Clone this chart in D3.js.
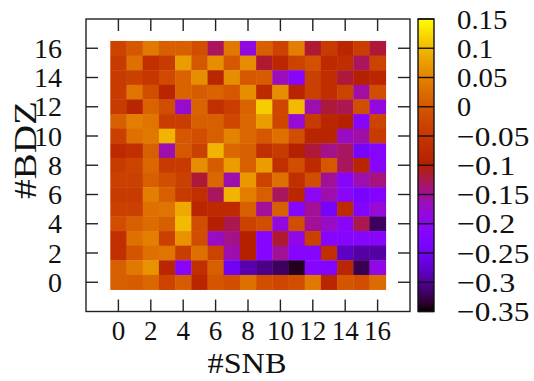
<!DOCTYPE html>
<html>
<head>
<meta charset="utf-8">
<script src="https://cdn.jsdelivr.net/npm/d3@7"></script>
<style>
  body { margin: 0; background: #fff; }
  svg text { font-family: "Liberation Serif", serif; }
</style>
</head>
<body>
<svg id="chart" width="534" height="381"></svg>
<script>
// columns are #SNB 0..16, rows are #BDZ, listed from 16 (top) down to 0
const snb = d3.range(17);
const bdzTopDown = d3.range(16, -1, -1);
const values = [
  [-0.03, 0.0, 0.04, 0.01, 0.01, -0.015, -0.13, 0.04, -0.185, 0.01, -0.03, 0.045, -0.115, -0.045, -0.085, -0.04, -0.118],
  [-0.045, 0.03, -0.065, -0.045, 0.075, 0.0, 0.06, 0.0, 0.06, -0.115, -0.08, -0.03, -0.01, -0.075, -0.07, -0.13, -0.03],
  [-0.045, -0.035, -0.05, -0.02, 0.015, 0.06, -0.085, 0.06, 0.0, 0.005, -0.165, -0.21, -0.035, -0.07, -0.118, -0.1, -0.085],
  [-0.045, 0.035, -0.015, -0.088, 0.015, 0.005, 0.015, 0.0, 0.06, -0.075, 0.06, -0.088, -0.035, -0.07, -0.03, -0.155, -0.015],
  [-0.045, -0.088, 0.015, -0.015, -0.175, 0.015, -0.065, -0.04, 0.015, 0.115, -0.025, 0.1, -0.16, -0.118, -0.125, -0.015, -0.185],
  [0.01, 0.045, 0.035, -0.04, -0.04, 0.01, 0.01, -0.025, 0.02, 0.075, -0.025, -0.18, -0.045, -0.085, -0.1, -0.215, -0.03],
  [-0.035, 0.03, 0.04, 0.095, 0.0, -0.015, 0.01, 0.05, 0.02, 0.0, 0.03, -0.015, -0.088, -0.088, -0.17, -0.155, -0.045],
  [-0.075, -0.065, 0.01, -0.16, 0.0, -0.035, 0.095, 0.02, 0.01, -0.065, -0.045, -0.1, -0.118, -0.145, -0.13, -0.24, -0.215],
  [-0.045, -0.03, 0.02, -0.045, -0.045, 0.06, 0.005, 0.075, 0.01, 0.075, -0.065, -0.015, -0.075, 0.0, -0.13, -0.088, -0.21],
  [-0.035, -0.035, 0.01, -0.015, -0.035, -0.118, 0.02, -0.16, 0.07, -0.03, 0.03, -0.065, -0.015, -0.15, -0.21, -0.16, -0.14],
  [-0.045, -0.045, 0.045, 0.01, -0.045, -0.065, -0.13, 0.095, 0.045, 0.01, -0.13, -0.085, -0.2, -0.16, -0.205, -0.235, -0.22],
  [-0.035, -0.035, 0.03, 0.035, 0.085, -0.085, -0.075, -0.075, 0.01, -0.15, 0.01, -0.215, -0.15, -0.24, -0.075, -0.22, -0.18],
  [-0.015, 0.01, 0.025, 0.01, 0.1, -0.015, -0.1, -0.125, -0.03, -0.015, -0.185, -0.015, -0.15, -0.17, -0.205, -0.125, -0.32],
  [-0.065, 0.03, 0.045, -0.035, 0.065, -0.015, -0.17, -0.145, -0.1, -0.215, -0.115, -0.19, -0.035, -0.215, -0.215, -0.215, -0.21],
  [-0.065, -0.005, 0.03, 0.035, -0.04, 0.03, -0.03, -0.16, -0.1, -0.215, -0.15, -0.215, -0.215, -0.065, -0.28, -0.295, -0.295],
  [0.01, 0.04, 0.065, -0.085, -0.21, -0.065, 0.01, -0.25, -0.29, -0.305, -0.32, -0.34, -0.215, -0.22, -0.085, -0.325, -0.19],
  [0.01, 0.005, 0.02, -0.03, 0.005, -0.085, -0.005, -0.015, 0.03, -0.015, -0.025, -0.015, 0.04, -0.085, -0.005, -0.015, 0.025]
];
const axisTicks = [0, 2, 4, 6, 8, 10, 12, 14, 16];
const cbTicks = [0.15, 0.1, 0.05, 0, -0.05, -0.1, -0.15, -0.2, -0.25, -0.3, -0.35];
const cbDomain = [-0.35, 0.15];

const svg = d3.select('#chart');

const x = d3.scaleLinear().domain([-2, 18]).range([86, 410]);
const y = d3.scaleLinear().domain([-2, 18]).range([311.5, 19]);

// gnuplot default palette (rgbformulae 7,5,15)
function pm3d(t) {
  t = Math.max(0, Math.min(1, t));
  const r = Math.sqrt(t), g = t * t * t, b = Math.max(0, Math.sin(2 * Math.PI * t));
  return d3.rgb(r * 255, g * 255, b * 255);
}
const norm = d3.scaleLinear().domain(cbDomain).range([0, 1]).clamp(true);
const color = v => pm3d(norm(v));

const cells = [];
values.forEach((row, i) => row.forEach((v, j) => cells.push({ sx: snb[j], bz: bdzTopDown[i], v })));

const cw = x(1) - x(0), ch = y(0) - y(1);
svg.append('g')
  .selectAll('rect')
  .data(cells)
  .join('rect')
  .attr('x', d => x(d.sx - 0.5))
  .attr('y', d => y(d.bz + 0.5))
  .attr('width', cw + 0.4)
  .attr('height', ch + 0.4)
  .attr('fill', d => color(d.v));

// frame + inward ticks on all four sides
const tickLen = 12;
const frame = svg.append('g').attr('stroke', '#222').attr('stroke-width', 1.4);
frame.append('rect')
  .attr('x', x(-2)).attr('y', y(18))
  .attr('width', x(18) - x(-2)).attr('height', y(-2) - y(18))
  .attr('fill', 'none');
axisTicks.forEach(t => {
  frame.append('line').attr('x1', x(t)).attr('x2', x(t)).attr('y1', y(-2)).attr('y2', y(-2) - tickLen);
  frame.append('line').attr('x1', x(t)).attr('x2', x(t)).attr('y1', y(18)).attr('y2', y(18) + tickLen);
  frame.append('line').attr('y1', y(t)).attr('y2', y(t)).attr('x1', x(-2)).attr('x2', x(-2) + tickLen);
  frame.append('line').attr('y1', y(t)).attr('y2', y(t)).attr('x1', x(18)).attr('x2', x(18) - tickLen);
});

const fs = 27;
const ink = '#111';
svg.append('g').selectAll('text')
  .data(axisTicks)
  .join('text')
  .attr('x', d => x(d))
  .attr('y', 340)
  .attr('text-anchor', 'middle')
  .attr('font-size', fs)
  .attr('fill', ink)
  .text(d => d);

svg.append('g').selectAll('text')
  .data(axisTicks)
  .join('text')
  .attr('x', 62)
  .attr('y', d => y(d))
  .attr('dy', '0.34em')
  .attr('text-anchor', 'end')
  .attr('font-size', 28)
  .attr('fill', ink)
  .text(d => d);

svg.append('text')
  .attr('x', 247).attr('y', 373)
  .attr('text-anchor', 'middle')
  .attr('font-size', 29)
  .attr('textLength', 79)
  .attr('lengthAdjust', 'spacingAndGlyphs')
  .attr('fill', ink)
  .text('#SNB');

svg.append('text')
  .attr('transform', 'translate(36,150) rotate(-90)')
  .attr('text-anchor', 'middle')
  .attr('font-size', 31)
  .attr('textLength', 98)
  .attr('lengthAdjust', 'spacingAndGlyphs')
  .attr('fill', ink)
  .text('#BDZ');

// colour box
const cbX = 418, cbW = 16;
const cy = d3.scaleLinear().domain(cbDomain).range([311.5, 19]);
const defs = svg.append('defs');
const grad = defs.append('linearGradient')
  .attr('id', 'cbgrad').attr('x1', 0).attr('x2', 0).attr('y1', 1).attr('y2', 0);
d3.range(0, 1.0001, 0.02).forEach(t => {
  grad.append('stop').attr('offset', t).attr('stop-color', pm3d(t));
});
svg.append('rect')
  .attr('x', cbX).attr('y', cy(0.15))
  .attr('width', cbW).attr('height', cy(-0.35) - cy(0.15))
  .attr('fill', 'url(#cbgrad)')
  .attr('stroke', '#111').attr('stroke-width', 1.4);

svg.append('g').attr('stroke', '#111').attr('stroke-width', 1.4)
  .selectAll('line')
  .data(cbTicks)
  .join('line')
  .attr('x1', cbX).attr('x2', cbX + cbW)
  .attr('y1', d => cy(d)).attr('y2', d => cy(d));

// label widths follow the TeX layout: digits 0.5em, point 0.278em, minus 0.778em
const cbLabel = d => d < 0 ? '\u2212' + String(-d) : String(d);
const cbWidth = d => {
  const s = String(Math.abs(d));
  const digits = s.replace('.', '').length;
  return 28.3 * ((d < 0 ? 0.778 : 0) + digits * 0.5 + (s.includes('.') ? 0.278 : 0));
};
svg.append('g').selectAll('text')
  .data(cbTicks)
  .join('text')
  .attr('x', 457)
  .attr('y', d => cy(d))
  .attr('dy', '0.34em')
  .attr('font-size', 28)
  .attr('textLength', cbWidth)
  .attr('lengthAdjust', 'spacingAndGlyphs')
  .attr('fill', ink)
  .text(cbLabel);
</script>
</body>
</html>
